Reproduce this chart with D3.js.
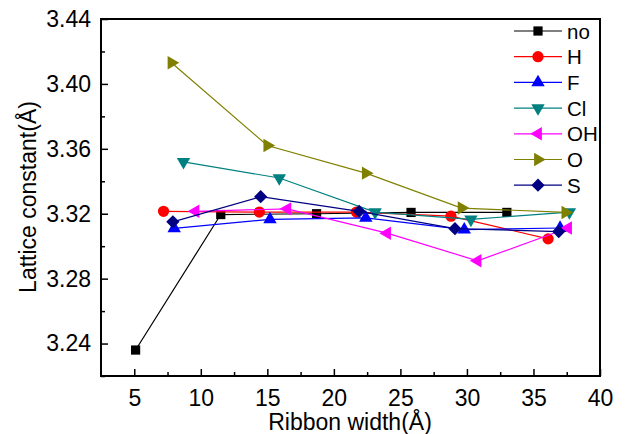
<!DOCTYPE html>
<html>
<head>
<meta charset="utf-8">
<script src="https://cdn.jsdelivr.net/npm/d3@7"></script>
<style>
body { margin: 0; background: #fff; }
text { font-family: Arial, "Liberation Sans", sans-serif; }
</style>
</head>
<body>
<div id="container"></div>
<script>
// ribbon widths (Angstrom) and lattice constants
var names = ["no", "H", "F", "Cl", "OH", "O", "S"];
var colors = ["#000000", "#ff0000", "#0000ff", "#008080", "#ff00ff", "#808000", "#000080"];

var x_no = [5.1, 11.5, 18.7, 25.8, 33.0];
var y_no = [3.236, 3.3195, 3.3200, 3.3208, 3.3208];
var x_H = [7.2, 14.4, 21.7, 28.8, 36.1];
var y_H = [3.3215, 3.3210, 3.3210, 3.3185, 3.3045];
var x_F = [8.0, 15.2, 22.4, 29.8, 37.0];
var y_F = [3.3110, 3.3165, 3.3175, 3.3102, 3.3112];
var x_Cl = [8.7, 15.9, 23.1, 30.3, 37.7];
var y_Cl = [3.3520, 3.3420, 3.3210, 3.3165, 3.3210];
var x_OH = [9.6, 16.5, 24.0, 30.8, 37.6];
var y_OH = [3.3215, 3.3230, 3.3080, 3.2910, 3.3112];
var x_O = [7.8, 15.0, 22.4, 29.6, 37.4];
var y_O = [3.4130, 3.3620, 3.3450, 3.3235, 3.3208];
var x_S = [7.9, 14.5, 21.9, 29.1, 36.9];
var y_S = [3.3150, 3.3305, 3.3215, 3.3108, 3.3090];

var xs = [x_no, x_H, x_F, x_Cl, x_OH, x_O, x_S];
var ys = [y_no, y_H, y_F, y_Cl, y_OH, y_O, y_S];

var xTicks = [5, 10, 15, 20, 25, 30, 35, 40];
var yTicks = [3.24, 3.28, 3.32, 3.36, 3.40, 3.44];

var width = 625, height = 434;
var svg = d3.select("#container").append("svg")
	.attr("width", width)
	.attr("height", height);

var x = d3.scaleLinear().domain([2.5, 40]).range([101, 600]);
var y = d3.scaleLinear().domain([3.22, 3.44]).range([376, 19]);

// symbol for each series
var sq = d3.symbol().type(d3.symbolSquare);
var tri = d3.symbol().type(d3.symbolTriangle).size(78);
var markers = [
	{path: sq.size(85)(), rot: 0},
	{path: d3.symbol().type(d3.symbolCircle).size(100)(), rot: 0},
	{path: tri(), rot: 0},
	{path: tri(), rot: 180},
	{path: tri(), rot: -90},
	{path: tri(), rot: 90},
	{path: d3.symbol().type(d3.symbolSquare).size(88)(), rot: 45}
];

// axes, ticks pointing inward
var xAxis = d3.axisBottom(x).tickValues(xTicks).tickSize(-7).tickPadding(14).tickFormat(d3.format("d"));
var xMinor = d3.axisBottom(x).tickValues(d3.range(7.5, 40, 5)).tickSize(-4).tickFormat("");
var yAxis = d3.axisLeft(y).tickValues(yTicks).tickSize(-7).tickPadding(10).tickFormat(d3.format(".2f"));
var yMinor = d3.axisLeft(y).tickValues(d3.range(3.22, 3.44, 0.04)).tickSize(-4).tickFormat("");

function styleAxis(g) {
	g.select(".domain").remove();
	g.selectAll("line").attr("stroke", "#000").attr("stroke-width", 1.5);
	g.selectAll("text").style("font-size", "23px").attr("fill", "#000");
}

svg.append("g").attr("transform", "translate(0,376)").call(xAxis).call(styleAxis);
svg.append("g").attr("transform", "translate(0,376)").call(xMinor).call(styleAxis);
svg.append("g").attr("transform", "translate(101,0)").call(yAxis).call(styleAxis);
svg.append("g").attr("transform", "translate(101,0)").call(yMinor).call(styleAxis);

svg.append("rect")
	.attr("x", 101).attr("y", 19)
	.attr("width", 499).attr("height", 357)
	.attr("fill", "none")
	.attr("stroke", "#000")
	.attr("stroke-width", 2);

svg.append("text")
	.attr("x", 350).attr("y", 430)
	.attr("text-anchor", "middle")
	.style("font-size", "23px")
	.text("Ribbon width(Å)");

svg.append("text")
	.attr("transform", "translate(36,197) rotate(-90)")
	.attr("text-anchor", "middle")
	.style("font-size", "23px")
	.text("Lattice constant(Å)");

var line = d3.line()
	.x(function(d) { return x(d[0]); })
	.y(function(d) { return y(d[1]); });

names.forEach(function(name, i) {
	var pts = xs[i].map(function(v, j) { return [v, ys[i][j]]; });
	svg.append("path")
		.attr("d", line(pts))
		.attr("fill", "none")
		.attr("stroke", colors[i])
		.attr("stroke-width", 1.2);
	svg.selectAll(".m" + i).data(pts).enter()
		.append("path")
		.attr("class", "m" + i)
		.attr("d", markers[i].path)
		.attr("transform", function(d) {
			return "translate(" + x(d[0]) + "," + y(d[1]) + ") rotate(" + markers[i].rot + ")";
		})
		.attr("fill", colors[i]);
});

// legend
var leg = svg.append("g");
names.forEach(function(name, i) {
	var ly = 31 + i * 25.7;
	leg.append("line")
		.attr("x1", 514).attr("x2", 562)
		.attr("y1", ly).attr("y2", ly)
		.attr("stroke", colors[i])
		.attr("stroke-width", 1.2);
	leg.append("path")
		.attr("d", markers[i].path)
		.attr("transform", "translate(538," + ly + ") rotate(" + markers[i].rot + ")")
		.attr("fill", colors[i]);
	leg.append("text")
		.attr("x", 567).attr("y", ly + 7.5)
		.style("font-size", "20.5px")
		.text(name);
});
</script>
</body>
</html>
